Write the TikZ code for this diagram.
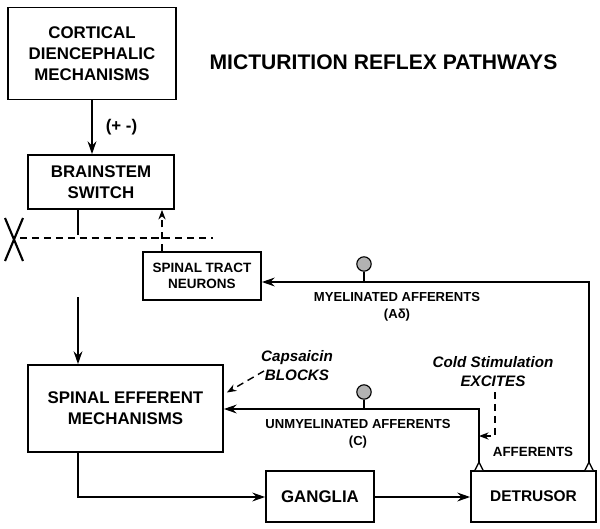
\documentclass[tikz,border=0pt]{standalone}
\usepackage{fontspec}
\setsansfont{Liberation Sans}
\usetikzlibrary{arrows.meta,positioning,calc}
\tikzset{
  block/.style = {draw,line width=1.2pt,font=\sffamily\bfseries\fontsize{12}{15}\selectfont,align=center,inner sep=2pt},
  small/.style = {font=\sffamily\bfseries\fontsize{9.3}{12}\selectfont,align=center},
  note/.style = {font=\sffamily\bfseries\itshape\fontsize{10.8}{13.5}\selectfont,align=center},
  wire/.style = {line width=1pt},
  arr/.style = {wire,-{Stealth[length=3.2mm,width=2.2mm]}},
  arrd/.style = {wire,dash pattern=on 5pt off 3.5pt,-{Stealth[length=2.4mm,width=1.8mm]}},
  syn/.style = {draw,line width=0.8pt,fill=gray!60,circle,minimum size=3.6mm,inner sep=0pt}
}

\begin{document}
\begin{tikzpicture}[x=0.025cm,y=-0.025cm]
\useasboundingbox (0,0) rectangle (600,528);

% boxes
\node[block,minimum width=4.2cm,minimum height=2.3cm] (cort) at (92,53.5) {CORTICAL\\DIENCEPHALIC\\MECHANISMS};
\node[font=\sffamily\bfseries\fontsize{15}{17}\selectfont] (title) at (383.5,62) {MICTURITION REFLEX PATHWAYS};
\node[block,minimum width=3.65cm,minimum height=1.35cm] (brain) at (101,182) {BRAINSTEM\\SWITCH};
\node[block,minimum width=2.95cm,minimum height=1.2cm,font=\sffamily\bfseries\fontsize{9.6}{11.5}\selectfont] (tract) at (202,276) {SPINAL TRACT\\NEURONS};
\node[block,minimum width=4.875cm,minimum height=2.175cm] (eff) at (125.5,408.5) {SPINAL EFFERENT\\MECHANISMS};
\node[block,minimum width=2.7cm,minimum height=1.275cm] (gang) at (320,496.5) {GANGLIA};
\node[block,minimum width=3.125cm,minimum height=1.275cm,font=\sffamily\bfseries\fontsize{11}{13}\selectfont] (detr) at (533.5,496.5) {DETRUSOR};

% descending path
\draw[arr] (cort.south) -- node[right=6pt,font=\sffamily\bfseries\fontsize{12}{14}\selectfont] (pm) {(+ -)} (cort.south |- brain.north);

\coordinate (cut) at (78,235);
\draw[wire] (brain.south -| cut) -- (cut);
\coordinate (dl) at (20,238);
\coordinate (dr) at (213,238);
\draw[wire,dash pattern=on 5pt off 3.5pt] (dl) -- (dr);
\draw[line width=1.5pt] (5,218) -- (23,261) (5,261) -- (23,218);

\coordinate (up) at (162,0);
\draw[arrd] (tract.north -| up) -- (brain.south -| up);

\coordinate (down) at (78,297);
\draw[arr] (down) -- (eff.north -| down);

\coordinate (gc) at (78,497);
\draw[arr] (eff.south -| gc) -- (gc) -- (gang.west |- gc);
\draw[arr] (gang.east |- gc) -- (detr.west |- gc);

% afferents
\coordinate (mr) at (589,282);
\coordinate (ul) at (479,409);
\draw[arr] ($(detr.north -| mr)+(0,-8)$) -- (mr) -- (tract.east |- mr);
\draw[arr] ($(detr.north -| ul)+(0,-8)$) -- (ul) -- (eff.east |- ul);
\foreach \t in {mr,ul}
  \draw[wire,fill=white] ($(detr.north -| \t)+(-4,0)$) -- ++(4,-8) -- ++(4,8);

\node[syn] (s1) at (364,264) {};
\draw[wire] (s1) -- (s1 |- mr);
\node[syn] (s2) at (364,392) {};
\draw[wire] (s2) -- (s2 |- ul);

\node[small] (mlab) at (397,307) {MYELINATED AFFERENTS\\(Aδ)};
\node[small] (ulab) at (358,434) {UNMYELINATED AFFERENTS\\(C)};
\node[small,font=\sffamily\bfseries\fontsize{9.5}{11}\selectfont] (alab) at (533,452) {AFFERENTS};

% stimuli
\node[note] (caps) at (297,366) {Capsaicin\\BLOCKS};
\coordinate (cs) at (264,371);
\draw[arrd] (cs) -- ($(eff.east)+(3,-16)$);

\node[note] (cold) at (493,372) {Cold Stimulation\\EXCITES};
\coordinate (ck) at (495,436);
\draw[arrd] (cold.south -| ck) -- (ck) -- (ul |- ck);
\end{tikzpicture}
\end{document}
